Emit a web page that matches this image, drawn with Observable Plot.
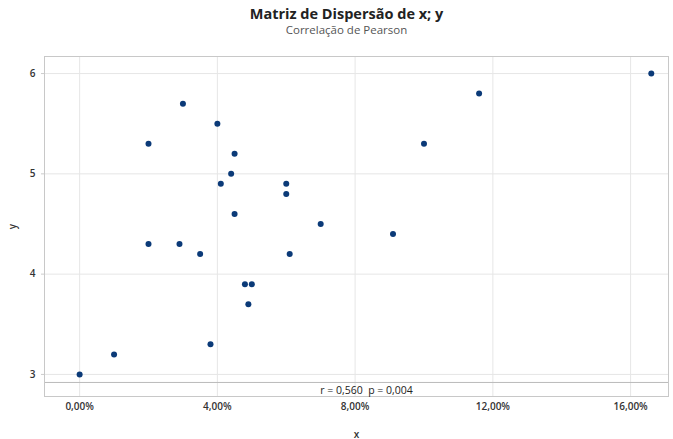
<!DOCTYPE html>
<html><head><meta charset="utf-8">
<script src="https://cdn.jsdelivr.net/npm/d3@7"></script>
<script src="https://cdn.jsdelivr.net/npm/@observablehq/plot@0.6"></script>
<style>
body{margin:0;background:#fff;font-family:"Open Sans",sans-serif;}
#t{height:45px;text-align:center;width:673px;}
#t .a{font-size:14.5px;font-weight:700;color:#222;padding-top:6px;line-height:16px;margin-left:20px;}
#t .b{font-size:11.5px;color:#555;line-height:13px;margin-top:1px;margin-left:20px;}
</style></head><body>
<div id="t"><div class="a">Matriz de Dispersão de x; y</div><div class="b">Correlação de Pearson</div></div>
<div id="c"></div>
<script>
const xs = [0.000,0.010,0.020,0.030,0.040,0.045,0.044,0.041,0.060,0.060,0.045,0.070,0.020,0.029,0.035,0.061,0.048,0.050,0.049,0.038,0.166,0.116,0.100,0.091];
const ys = [3.0,3.2,5.3,5.7,5.5,5.2,5.0,4.9,4.9,4.8,4.6,4.5,4.3,4.3,4.2,4.2,3.9,3.9,3.7,3.3,6.0,5.8,5.3,4.4];
const xTicks = [0,0.04,0.08,0.12,0.16];
const yTicks = [3,4,5,6];
const stats = "r = 0,560  p = 0,004";
const data = xs.map((x,i)=>({x, y: ys[i]}));
const fmt = d => (d*100).toFixed(2).replace(".", ",") + "%";
const chart = Plot.plot({
  width: 673, height: 394,
  marginTop: 11, marginBottom: 43, marginLeft: 44, marginRight: 5,
  style: {fontFamily: "Open Sans, sans-serif", fontSize: "10px", color: "#333"},
  x: {domain: [-0.0102, 0.171]},
  y: {domain: [2.78, 6.17]},
  marks: [
    Plot.gridX(xTicks, {stroke: "#e6e6e6", strokeOpacity: 1}),
    Plot.gridY(yTicks, {stroke: "#e6e6e6", strokeOpacity: 1}),
    Plot.ruleY([2.92], {stroke: "#bbb"}),
    Plot.frame({stroke: "#c8c8c8"}),
    Plot.axisX({ticks: xTicks, tickFormat: fmt, tickSize: 0, tickPadding: 6, fontWeight: 600, label: "x", labelAnchor: "center", labelArrow: "none", labelOffset: 41}),
    Plot.axisY({ticks: yTicks, tickFormat: d => String(d), tickSize: 3, stroke: "#ccc", fontWeight: 600, label: "y", labelAnchor: "center", labelArrow: "none", labelOffset: 36}),
    Plot.dot(data, {x: "x", y: "y", r: 3, fill: "#0b3a78", stroke: "none"}),
    Plot.text([stats], {frameAnchor: "bottom", dy: -3, dx: 10, text: d => d, fontSize: 10.5, fill: "#222"})
  ]
});
document.getElementById("c").appendChild(chart);
</script>
</body></html>
